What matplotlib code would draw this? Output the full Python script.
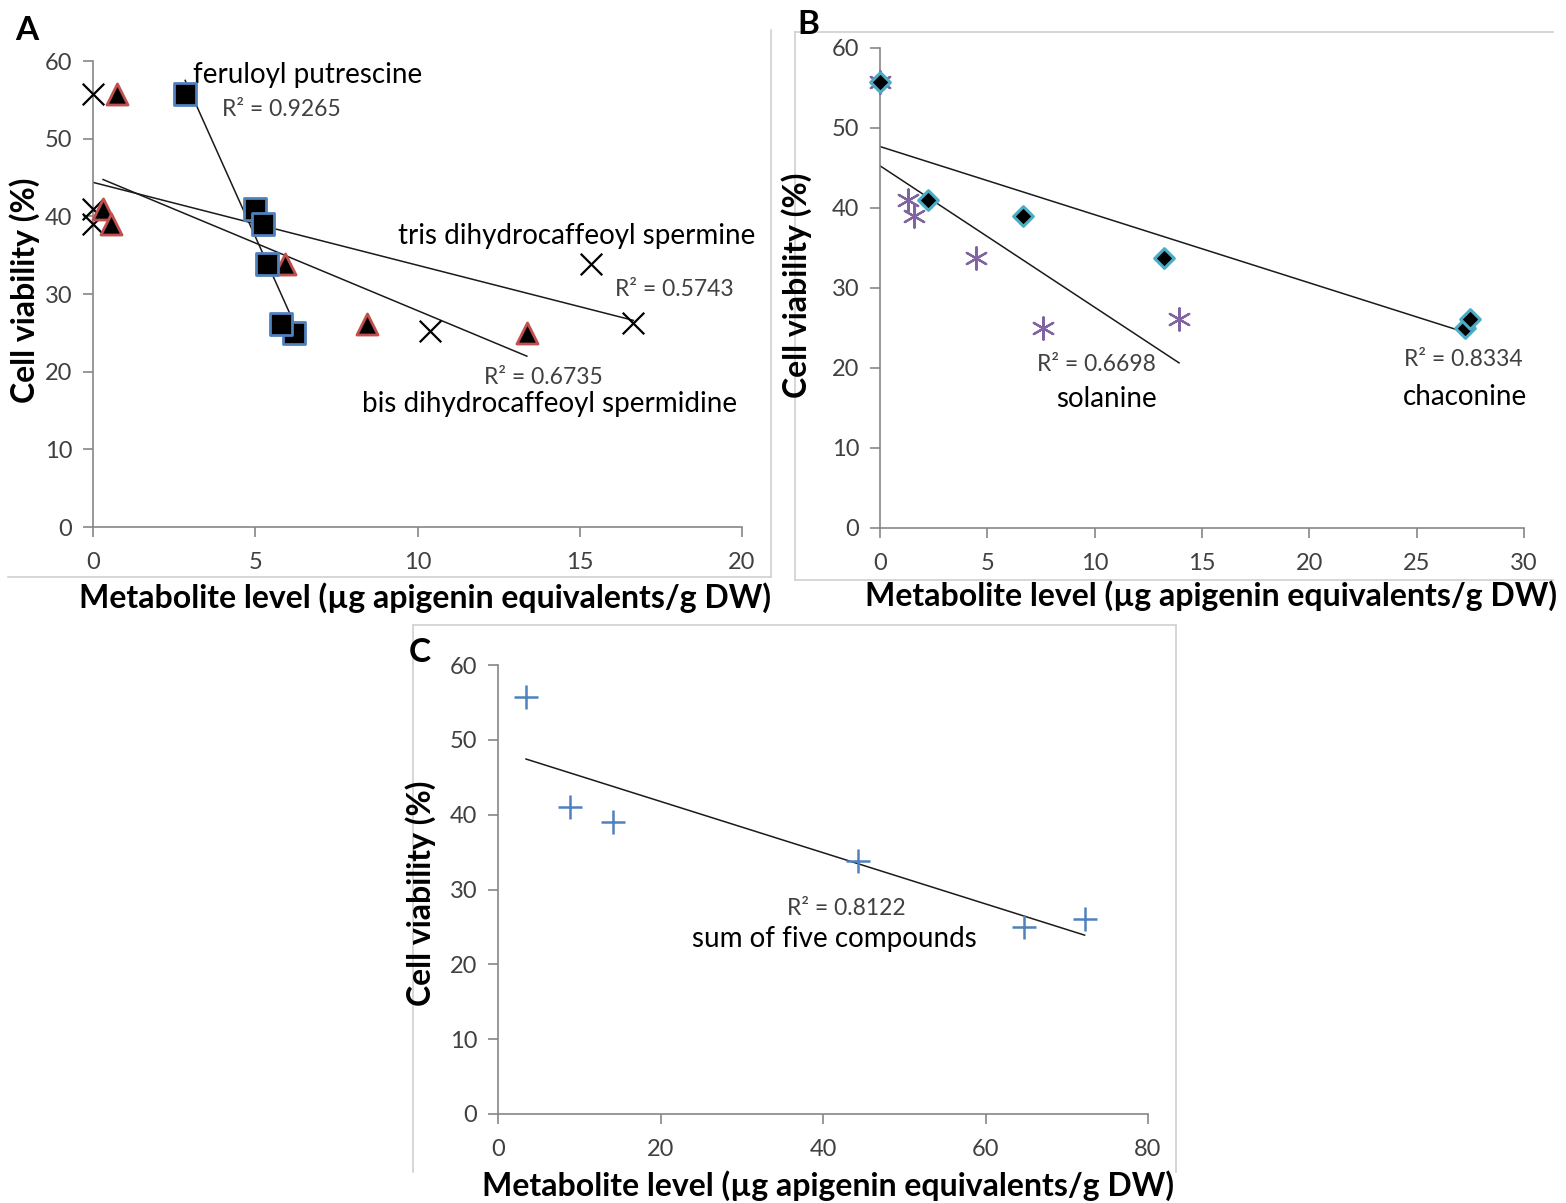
import numpy as np
import matplotlib
matplotlib.use("Agg")
import matplotlib.pyplot as plt
from matplotlib.lines import Line2D

plt.rcParams['font.family'] = ['Lato', 'DejaVu Sans']

# Cell viability (%) for the six samples (shared by all series)
viability = [55.7, 41.0, 39.0, 33.8, 25.0, 26.1]

# Panel A metabolite levels
tris_spermine = [0.0, 0.0, 0.0, 15.35, 10.4, 16.65]
tris_viab = [55.7, 41.0, 39.0, 33.8, 25.2, 26.3]
bis_spermidine = [0.74, 0.31, 0.55, 5.92, 13.37, 8.44]
feruloyl_putrescine = [2.84, 4.99, 5.24, 5.36, 6.19, 5.79]

# Panel B
chaconine = [0.0, 2.24, 6.66, 13.23, 27.25, 27.5]
solanine = [0.0, 1.30, 1.58, 4.47, 7.59, 13.93]

# Panel C
sum_five = [3.45, 8.86, 14.15, 44.3, 64.7, 72.2]

xlabel = "Metabolite level (µg apigenin equivalents/g DW)"
ylabel = "Cell viability (%)"

W, H = 1566, 1203
fig = plt.figure(figsize=(W / 100, H / 100), dpi=100)

AX_GRAY = '#868686'
TICK_COLOR = '#404040'
FRAME = '#d0d0d0'


def px_axes(x0, y0, x1, y1):
    return fig.add_axes([x0 / W, 1 - y1 / H, (x1 - x0) / W, (y1 - y0) / H])


def style(ax, xmax, xstep):
    ax.set_xlim(0, xmax)
    ax.set_ylim(0, 60)
    ax.set_xticks(np.arange(0, xmax + 0.1, xstep))
    ax.set_yticks(np.arange(0, 61, 10))
    for s in ['top', 'right']:
        ax.spines[s].set_visible(False)
    for s in ['left', 'bottom']:
        ax.spines[s].set_color(AX_GRAY)
        ax.spines[s].set_linewidth(1.2)
    ax.tick_params(axis='both', colors=AX_GRAY, length=7, width=1.2,
                   labelcolor=TICK_COLOR, labelsize=17, direction='out')
    ax.tick_params(axis='x', pad=11)
    ax.tick_params(axis='y', pad=8)
    ax.patch.set_alpha(0)


def trend(ax, x, y):
    x = np.asarray(x, float)
    y = np.asarray(y, float)
    k, b = np.polyfit(x, y, 1)
    xs = np.array([x.min(), x.max()])
    ax.plot(xs, k * xs + b, color='#1a1a1a', lw=1.1, zorder=2)


def frame(segs):
    for (xa, ya, xb, yb) in segs:
        fig.add_artist(Line2D([xa / W, xb / W], [1 - ya / H, 1 - yb / H],
                              color=FRAME, lw=1.2, transform=fig.transFigure))


# Frames
frame([(8, 577, 771, 577), (771, 30, 771, 577)])
frame([(795, 32, 1553, 32), (795, 32, 795, 580), (795, 580, 1553, 580)])
frame([(413, 625, 1176, 625), (413, 625, 413, 1172), (1176, 625, 1176, 1172)])

# ---------- Panel A ----------
axA = px_axes(93, 61, 742, 527)
style(axA, 20, 5)
trend(axA, tris_spermine, tris_viab)
trend(axA, bis_spermidine, viability)
trend(axA, feruloyl_putrescine, viability)
axA.scatter(tris_spermine, tris_viab, marker='x', s=240, color='black',
            linewidths=1.6, zorder=3, clip_on=False)
axA.scatter(bis_spermidine, viability, marker='^', s=230, facecolor='black',
            edgecolor='#c0504d', linewidths=2, zorder=3, clip_on=False)
axA.scatter(feruloyl_putrescine, viability, marker='s', s=250, facecolor='black',
            edgecolor='#4f81bd', linewidths=2, zorder=4, clip_on=False)
tk = dict(fontsize=20, color='black', ha='left', va='center')
rk = dict(fontsize=16.5, color=TICK_COLOR, ha='left', va='center')
axA.text(3.08, 58.2, "feruloyl putrescine", **tk)
axA.text(3.98, 53.7, "R² = 0.9265", **rk)
axA.text(9.40, 37.45, "tris dihydrocaffeoyl spermine", **tk)
axA.text(16.09, 30.6, "R² = 0.5743", **rk)
axA.text(12.05, 19.3, "R² = 0.6735", **rk)
axA.text(8.29, 15.8, "bis dihydrocaffeoyl spermidine", **tk)

# ---------- Panel B ----------
axB = px_axes(880, 48, 1524, 528)
style(axB, 30, 5)
trend(axB, chaconine, viability)
trend(axB, solanine, viability)
axB.scatter(solanine, viability, marker=(6, 2, 0), s=260, color='#8064a2',
            linewidths=1.6, zorder=3, clip_on=False)
axB.scatter(chaconine, viability, marker='D', s=100, facecolor='black',
            edgecolor='#4bacc6', linewidths=2.2, zorder=4, clip_on=False)
axB.text(7.31, 20.4, "R² = 0.6698", **rk)
axB.text(8.20, 16.1, "solanine", **tk)
axB.text(24.41, 21.1, "R² = 0.8334", **rk)
axB.text(24.36, 16.4, "chaconine", **tk)

# ---------- Panel C ----------
axC = px_axes(498, 665, 1148, 1114)
style(axC, 80, 20)
trend(axC, sum_five, viability)
axC.scatter(sum_five, viability, marker='+', s=280, color='#4f81bd',
            linewidths=1.8, zorder=3, clip_on=False)
axC.text(35.57, 27.5, "R² = 0.8122", **rk)
axC.text(23.88, 23.4, "sum of five compounds", **tk)

# ---------- Labels ----------
lab = dict(fontsize=23, fontweight='bold', color='black', ha='center', va='center')
fig.text(425 / W, 1 - 598 / H, xlabel, **lab)
fig.text(1211 / W, 1 - 596 / H, xlabel, **lab)
fig.text(828 / W, 1 - 1186 / H, xlabel, **lab)
fig.text(25 / W, 1 - 290 / H, ylabel, rotation=90, **lab)
fig.text(797 / W, 1 - 285 / H, ylabel, rotation=90, **lab)
fig.text(421 / W, 1 - 893 / H, ylabel, rotation=90, **lab)

pl = dict(fontsize=24, fontweight='bold', color='black', ha='center', va='center')
fig.text(27 / W, 1 - 30 / H, "A", **pl)
fig.text(808 / W, 1 - 25 / H, "B", **pl)
fig.text(420 / W, 1 - 652 / H, "C", **pl)

fig.savefig("out.png", dpi=100)
